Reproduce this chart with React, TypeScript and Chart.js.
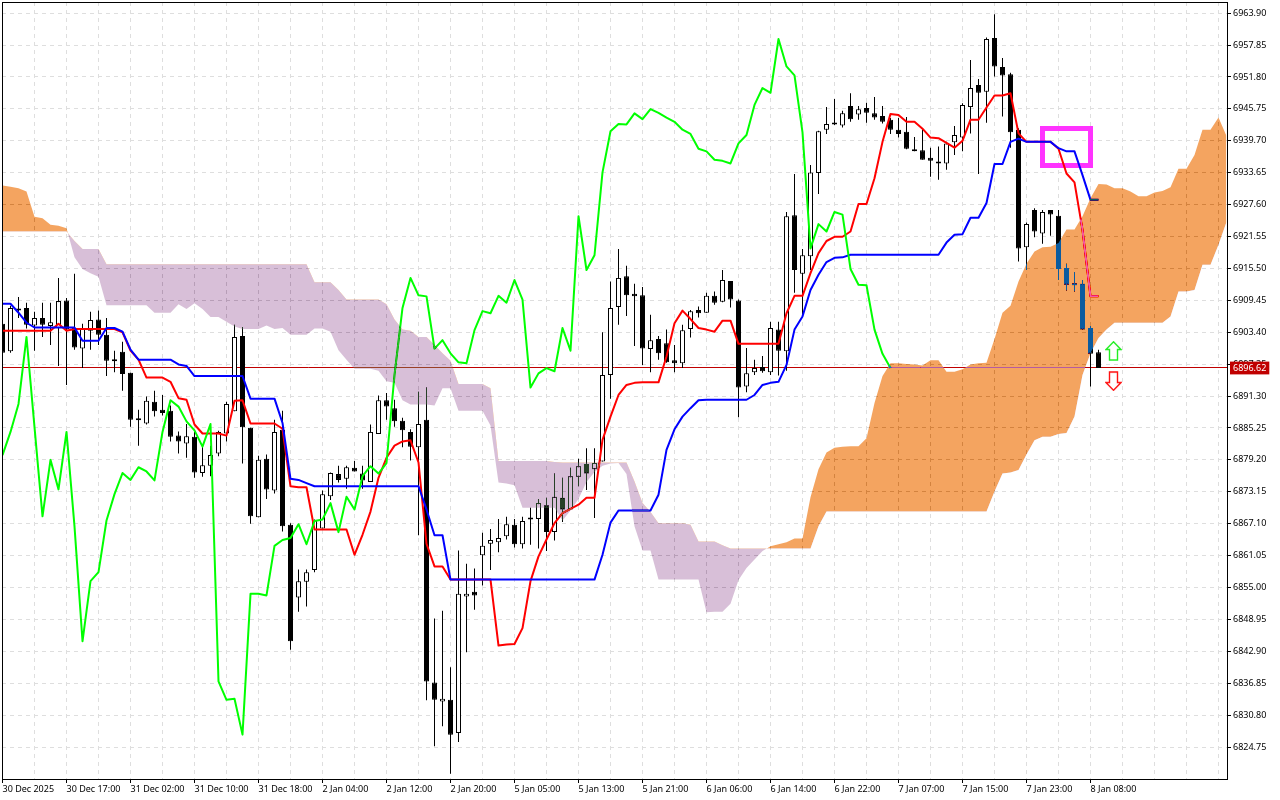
import React, { useEffect, useRef } from "react";
import { Chart, registerables } from "chart.js";

const opens = [
6905.0,6899.8,6907.6,6908.0,6904.7,6906.1,6904.6,6904.2,6909.4,6904.2,
6900.3,6903.7,6905.8,6902.9,6897.9,6899.7,6895.7,6886.8,6886.1,6890.2,
6888.7,6888.5,6883.8,6882.3,6883.6,6876.7,6878.1,6880.4,6884.2,6888.4,
6902.7,6885.3,6868.3,6879.4,6873.4,6884.9,6866.9,6853.1,6856.1,6858.3,
6866.2,6872.3,6876.5,6875.6,6877.7,6876.6,6875.0,6884.1,6890.5,6889.0,
6886.6,6884.5,6881.6,6886.8,6837.0,6833.4,6833.7,6827.4,6853.3,6854.2,
6861.1,6863.3,6863.6,6864.7,6866.9,6863.2,6868.2,6868.0,6870.6,6865.5,
6872.0,6869.8,6876.0,6878.4,6877.4,6878.9,6895.3,6908.2,6914.0,6910.7,
6910.4,6900.2,6902.1,6901.3,6898.1,6897.5,6904.0,6907.6,6907.1,6910.3,
6909.2,6913.1,6909.4,6893.1,6895.8,6896.8,6895.8,6903.9,6899.8,6925.6,
6914.5,6917.8,6933.6,6941.8,6943.0,6942.6,6946.3,6944.7,6945.9,6944.9,
6944.4,6943.7,6941.8,6941.4,6937.9,6937.9,6936.5,6935.7,6935.4,6939.4,
6940.3,6946.1,6950.3,6949.0,6959.2,6953.7,6952.3,6941.8,6919.5,6926.6,
6922.1,6926.6,6925.5,6915.6,6912.6,6912.6,6904.2,6899.6,
];
const highs = [
6905.4,6908.4,6910.1,6909.0,6907.3,6909.0,6909.0,6913.7,6909.9,6914.5,
6905.0,6907.3,6907.5,6906.1,6899.9,6901.6,6895.7,6888.7,6891.2,6892.3,
6891.5,6889.5,6884.6,6886.0,6884.5,6881.7,6881.9,6884.7,6890.2,6904.8,
6904.4,6885.3,6880.0,6880.2,6886.8,6888.5,6867.2,6858.4,6858.4,6867.9,
6873.4,6876.8,6878.1,6878.1,6879.0,6878.1,6885.9,6891.4,6891.9,6890.6,
6887.2,6885.0,6892.1,6892.9,6849.1,6850.6,6839.9,6862.0,6859.5,6858.6,
6865.4,6866.1,6868.0,6868.4,6868.0,6868.4,6870.1,6871.8,6872.0,6876.6,
6875.8,6877.7,6879.4,6881.4,6881.4,6903.4,6913.0,6919.2,6916.0,6912.6,
6912.0,6906.7,6902.7,6903.9,6901.0,6904.8,6907.6,6908.3,6910.9,6911.1,
6915.2,6913.1,6909.6,6900.4,6898.2,6898.9,6905.4,6905.4,6926.2,6933.4,
6919.2,6935.1,6941.6,6946.1,6947.6,6945.4,6948.7,6946.3,6946.9,6948.0,
6946.3,6944.0,6944.0,6944.2,6940.4,6941.9,6938.4,6938.6,6939.5,6942.5,
6946.8,6955.0,6951.4,6959.3,6963.7,6955.4,6952.6,6942.1,6924.2,6926.9,
6926.6,6926.6,6926.6,6916.4,6914.8,6913.3,6904.6,6900.1,
];
const lows = [
6899.5,6899.5,6906.1,6904.1,6899.9,6902.5,6901.0,6897.0,6893.4,6900.1,
6896.6,6900.1,6901.0,6895.1,6895.8,6892.3,6885.5,6881.9,6885.9,6887.4,
6887.6,6882.7,6880.4,6879.6,6875.8,6876.0,6876.1,6879.9,6882.7,6888.4,
6878.5,6867.1,6868.3,6871.8,6872.8,6865.6,6843.2,6850.4,6851.4,6857.9,
6866.2,6871.6,6874.9,6873.7,6877.0,6873.7,6875.0,6884.1,6886.8,6885.5,
6881.6,6879.1,6864.9,6833.6,6824.9,6828.7,6819.7,6825.7,6842.7,6850.8,
6855.4,6858.3,6861.7,6864.1,6862.6,6862.4,6863.1,6862.4,6861.9,6863.9,
6867.4,6869.8,6874.2,6873.5,6868.2,6878.9,6890.8,6904.8,6906.5,6900.8,
6897.2,6895.8,6898.2,6897.6,6895.8,6896.6,6902.4,6906.2,6907.1,6908.6,
6909.1,6908.1,6887.3,6892.0,6895.3,6895.7,6895.3,6895.2,6896.1,6910.9,
6906.7,6915.2,6929.6,6941.0,6942.7,6942.2,6943.3,6943.7,6943.1,6943.7,
6943.0,6941.0,6940.3,6938.1,6937.7,6936.1,6932.9,6932.3,6934.2,6937.0,
6937.7,6941.1,6933.4,6943.1,6951.9,6944.3,6938.4,6916.8,6915.2,6921.4,
6920.2,6921.7,6913.3,6911.3,6911.1,6903.9,6893.1,6896.62,
];
const closes = [
6899.5,6908.0,6907.5,6904.8,6906.1,6904.8,6905.3,6909.3,6903.9,6900.5,
6904.1,6905.7,6902.9,6898.0,6898.3,6895.5,6886.8,6886.7,6890.4,6888.4,
6888.1,6883.6,6882.7,6883.7,6876.8,6878.2,6880.1,6884.5,6889.8,6902.5,
6885.4,6868.5,6879.2,6873.6,6884.5,6866.6,6844.8,6856.2,6857.9,6867.7,
6872.7,6876.7,6875.4,6877.8,6877.0,6875.3,6884.5,6890.5,6889.3,6886.5,
6884.8,6881.7,6886.0,6837.2,6833.7,6833.9,6827.1,6853.8,6853.8,6853.5,
6862.9,6864.0,6864.4,6867.0,6863.2,6867.6,6867.9,6871.0,6865.5,6872.2,
6869.8,6876.1,6878.0,6876.6,6878.6,6895.3,6908.0,6913.7,6910.4,6910.2,
6900.3,6901.9,6899.4,6897.7,6897.5,6903.8,6907.4,6907.0,6910.3,6909.0,
6913.3,6909.6,6892.9,6895.6,6896.6,6896.0,6904.2,6899.9,6925.4,6915.2,
6918.0,6933.7,6941.5,6942.9,6942.8,6944.9,6943.8,6945.7,6945.0,6944.1,
6943.3,6941.8,6941.0,6938.2,6937.7,6936.1,6935.9,6935.4,6939.2,6940.8,
6946.5,6949.7,6948.8,6959.0,6953.8,6952.1,6941.3,6919.3,6923.9,6922.5,
6926.2,6925.7,6915.4,6912.4,6912.3,6903.9,6899.3,6896.62,
];
const tenkan = [
6903.7,6903.7,6903.7,6903.7,6903.7,6903.7,6903.7,6905.0,6903.7,6904.0,
6904.0,6904.0,6904.0,6904.0,6904.0,6903.4,6899.9,6898.2,6894.8,6894.8,
6894.8,6894.0,6890.9,6890.6,6885.9,6884.2,6884.2,6884.2,6883.8,6890.4,
6890.5,6886.1,6886.1,6886.1,6886.1,6885.1,6874.2,6874.0,6874.0,6866.0,
6866.0,6866.0,6866.0,6866.0,6861.2,6865.0,6869.4,6875.8,6879.6,6881.9,
6882.7,6882.9,6878.7,6863.3,6859.0,6859.0,6856.5,6856.5,6856.5,6856.5,
6856.5,6856.5,6844.0,6844.2,6844.3,6847.3,6856.2,6860.9,6864.1,6867.2,
6869.1,6869.9,6870.7,6872.0,6872.0,6883.0,6887.4,6891.5,6893.4,6893.8,
6893.9,6893.9,6893.9,6898.8,6905.1,6907.5,6905.9,6904.2,6903.9,6903.5,
6905.6,6905.6,6901.2,6901.2,6901.2,6901.2,6901.2,6901.2,6907.0,6910.3,
6910.3,6914.6,6918.4,6920.7,6921.5,6921.5,6922.5,6927.7,6927.7,6932.6,
6939.5,6944.8,6944.6,6943.3,6943.3,6942.0,6940.3,6940.2,6939.3,6938.4,
6939.7,6943.7,6943.7,6946.0,6948.3,6948.3,6948.7,6941.1,6939.5,6939.5,
6939.5,6939.5,6938.2,6933.5,6931.8,6922.8,6910.2,6910.2,
];
const kijun = [
6908.8,6908.8,6907.1,6905.2,6904.3,6904.3,6904.3,6904.3,6904.3,6904.3,
6901.8,6901.8,6901.8,6904.2,6904.2,6903.5,6900.1,6898.2,6898.2,6898.2,
6898.2,6898.2,6897.3,6897.0,6895.1,6895.1,6895.1,6895.1,6895.1,6895.1,
6895.1,6890.8,6890.8,6890.8,6890.8,6886.2,6875.6,6875.4,6874.8,6874.2,
6874.2,6874.2,6874.2,6874.2,6874.2,6874.2,6874.2,6874.2,6874.2,6874.2,
6874.2,6874.2,6874.2,6869.8,6864.9,6864.9,6856.5,6856.5,6856.5,6856.5,
6856.5,6856.5,6856.5,6856.5,6856.5,6856.5,6856.5,6856.5,6856.5,6856.5,
6856.5,6856.5,6856.5,6856.5,6856.5,6861.2,6867.3,6869.6,6869.6,6869.6,
6869.6,6869.6,6872.6,6881.1,6885.0,6887.4,6889.0,6890.5,6890.6,6890.6,
6890.6,6890.6,6890.6,6890.6,6891.5,6893.4,6893.8,6894.0,6897.2,6903.9,
6906.4,6911.4,6914.3,6916.7,6917.5,6917.6,6918.1,6918.1,6918.1,6918.1,
6918.1,6918.1,6918.1,6918.1,6918.1,6918.1,6918.1,6918.1,6920.4,6921.9,
6922.0,6925.1,6925.1,6927.9,6935.3,6935.3,6939.5,6940.1,6939.5,6939.5,
6939.5,6939.5,6938.3,6937.7,6937.7,6933.2,6928.5,6928.5,
];
const chikou = [
6880.1,6884.5,6889.8,6902.5,6885.4,6868.5,6879.2,6873.6,6884.5,6866.6,
6844.8,6856.2,6857.9,6867.7,6872.7,6876.7,6875.4,6877.8,6877.0,6875.3,
6884.5,6890.5,6889.3,6886.5,6884.8,6881.7,6886.0,6837.2,6833.7,6833.9,
6827.1,6853.8,6853.8,6853.5,6862.9,6864.0,6864.4,6867.0,6863.2,6867.6,
6867.9,6871.0,6865.5,6872.2,6869.8,6876.1,6878.0,6876.6,6878.6,6895.3,
6908.0,6913.7,6910.4,6910.2,6900.3,6901.9,6899.4,6897.7,6897.5,6903.8,
6907.4,6907.0,6910.3,6909.0,6913.3,6909.6,6892.9,6895.6,6896.6,6896.0,
6904.2,6899.9,6925.4,6915.2,6918.0,6933.7,6941.5,6942.9,6942.8,6944.9,
6943.8,6945.7,6945.0,6944.1,6943.3,6941.8,6941.0,6938.2,6937.7,6936.1,
6935.9,6935.4,6939.2,6940.8,6946.5,6949.7,6948.8,6959.0,6953.8,6952.1,
6941.3,6919.3,6923.9,6922.5,6926.2,6925.7,6915.4,6912.4,6912.3,6903.9,
6899.3,6896.62,
];
const spanA = [
6931.2,6931.0,6930.7,6930.1,6925.3,6925.0,6923.8,6923.6,6923.1,6917.6,
6915.4,6914.6,6913.9,6908.5,6908.5,6908.5,6908.5,6908.5,6908.5,6907.1,
6907.1,6907.1,6908.7,6907.8,6908.9,6907.8,
6906.3,6906.3,6905.4,6904.5,6904.0,6904.0,6904.0,6904.7,6904.0,6904.2,
6902.9,6902.9,6902.9,6904.1,6904.1,6903.5,6900.0,6898.2,6896.5,6896.5,
6896.5,6896.1,6894.1,6893.8,6890.5,6889.7,6889.7,6889.7,6889.5,6892.8,
6892.8,6888.5,6888.5,6888.5,6888.5,6885.7,6874.9,6874.7,6874.4,6870.1,
6870.1,6870.1,6870.1,6870.1,6867.7,6869.6,6871.8,6875.0,6876.9,6878.1,
6878.5,6878.6,6876.5,6866.6,6862.0,6862.0,6856.5,6856.5,6856.5,6856.5,
6856.5,6856.5,6850.3,6850.4,6850.4,6851.9,6856.4,6858.7,6860.3,6861.9,
6862.8,6863.2,6863.6,6864.3,6864.3,6872.1,6877.4,6880.6,6881.5,6881.7,
6881.8,6881.8,6883.3,6890.0,6895.1,6897.5,6897.5,6897.4,6897.3,6897.1,
6898.1,6898.1,6895.9,6895.9,6896.4,6897.3,6897.5,6897.6,6902.1,6907.1,
6908.4,6913.0,6916.4,6918.7,6919.5,6919.6,6920.3,6922.9,6922.9,6925.4,
6928.8,6931.5,6931.4,6930.7,6930.7,6930.1,6929.2,6929.2,6929.9,6930.2,
6930.9,6934.4,6934.4,6937.0,6941.8,6941.8,6944.1,6940.6,
];
const spanB = [
6922.5,6922.5,6922.5,6922.5,6922.5,6922.5,6922.5,6922.5,6922.5,6920.7,
6919.2,6919.2,6919.2,6916.3,6916.3,6916.3,6916.3,6916.3,6916.3,6916.3,
6916.3,6916.3,6916.3,6916.3,6916.3,6916.3,6916.3,6916.3,6916.3,6916.3,
6916.3,6916.3,6916.3,6916.3,6916.3,6916.3,6916.3,6916.3,6916.3,6912.9,
6912.9,6912.9,6911.4,6909.6,6909.6,6909.6,6909.6,6909.6,6908.7,6905.8,
6903.9,6903.7,6902.5,6902.5,6901.0,6899.4,6898.0,6893.6,6893.6,6893.6,
6893.6,6892.8,6879.0,6879.0,6879.0,6879.0,6879.0,6879.0,6879.0,6878.8,
6878.7,6878.7,6878.7,6878.7,6878.7,6878.7,6878.7,6878.7,6878.7,6875.1,
6871.0,6869.3,6867.2,6867.2,6867.2,6867.2,6866.9,6863.7,6863.7,6863.7,
6863.0,6862.4,6862.4,6862.4,6862.4,6862.4,6862.4,6862.4,6862.4,6862.4,
6862.4,6862.4,6866.6,6869.4,6869.4,6869.4,6869.4,6869.4,6869.4,6869.4,
6869.4,6869.4,6869.4,6869.4,6869.4,6869.4,6869.4,6869.4,6869.4,6869.4,
6869.4,6869.4,6869.4,6869.4,6873.2,6876.6,6876.8,6877.3,6880.2,6882.9,
6883.6,6883.6,6884.1,6884.3,6887.4,6895.3,6899.4,6902.3,6903.9,6905.2,
6905.2,6905.2,6905.2,6905.2,6905.2,6905.2,6906.4,6911.1,6911.1,6911.4,
6916.2,6916.2,6920.0,6924.3,
];
const priceTicks = [
6963.90,6957.85,6951.80,6945.75,6939.70,6933.65,6927.60,6921.55,6915.50,6909.45,
6903.40,6897.35,6891.30,6885.25,6879.20,6873.15,6867.10,6861.05,6855.00,6848.95,
6842.90,6836.85,6830.80,6824.75,
];
const timeLabels = [
"30 Dec 2025","30 Dec 17:00","31 Dec 02:00","31 Dec 10:00","31 Dec 18:00","2 Jan 04:00",
"2 Jan 12:00","2 Jan 20:00","5 Jan 05:00","5 Jan 13:00","5 Jan 21:00","6 Jan 06:00",
"6 Jan 14:00","6 Jan 22:00","7 Jan 07:00","7 Jan 15:00","7 Jan 23:00","8 Jan 08:00",
];
const lastPrice = 6896.62;
const boxBars = [130, 136, 136, 130, 130, 136];
const boxPrices = [6942.03, 6942.03, 6935.01, 6935.01, 6942.03, 6942.03];
const signalBar = 138.875;
const upArrowPrice = 6899.84;
const downArrowPrice = 6894.15;

const cloudBlend = {
  id: "cloudBlend",
  afterLayout(chart: any) {
    chart.scales.y2.right = chart.width;
  },
  beforeDraw(chart: any) {
    const { ctx, width, height } = chart;
    ctx.save();
    ctx.fillStyle = "#fff";
    ctx.fillRect(0, 0, width, height);
    ctx.restore();
  },
  beforeDatasetDraw(chart: any, args: any) {
    if (chart.data.datasets[args.index].cloud) chart.ctx.globalCompositeOperation = "difference";
  },
  afterDatasetDraw(chart: any, args: any) {
    if (chart.data.datasets[args.index].cloud) chart.ctx.globalCompositeOperation = "source-over";
  },
  afterDatasetsDraw(chart: any) {
    const { ctx, chartArea: a } = chart;
    ctx.save();
    ctx.strokeStyle = "#000";
    ctx.lineWidth = 1;
    ctx.strokeRect(a.left + 0.5, a.top + 0.5, a.right - a.left, a.bottom - a.top);
    ctx.restore();
  },
};
Chart.register(cloudBlend, ...registerables);

function arrowImage(color: string, up: boolean) {
  const c = document.createElement("canvas");
  c.width = 17;
  c.height = 20;
  const g = c.getContext("2d")!;
  if (!up) {
    g.translate(0, 20);
    g.scale(1, -1);
  }
  g.beginPath();
  g.moveTo(8.5, 0.8);
  g.lineTo(16, 8.5);
  g.lineTo(12.5, 8.5);
  g.lineTo(12.5, 19);
  g.lineTo(4.5, 19);
  g.lineTo(4.5, 8.5);
  g.lineTo(1, 8.5);
  g.closePath();
  g.fillStyle = "#fff";
  g.fill();
  g.strokeStyle = color;
  g.lineWidth = 1.4;
  g.stroke();
  return c;
}

const noPad = (s: any) => {
  s.paddingLeft = 0;
  s.paddingRight = 0;
  s.paddingTop = 0;
  s.paddingBottom = 0;
};
const pts = (v: number[]) => v.map((y, x) => ({ x, y }));
const lineStyle = { type: "line", pointRadius: 0, tension: 0, fill: false, borderJoinStyle: "round" };
const font = { family: "'Noto Sans'", size: 9 };

export default function App() {
  const ref = useRef<HTMLCanvasElement>(null);
  useEffect(() => {
    const chart = new Chart(ref.current!, {
      type: "bar",
      data: {
        datasets: [
          {
            data: highs.map((h, x) => ({ x, y: [lows[x], h] })),
            backgroundColor: "#000",
            borderWidth: 0,
            grouped: false,
            maxBarThickness: 1,
            minBarLength: 1,
            inflateAmount: 0,
            order: 10,
          },
          {
            data: opens.map((o, x) => ({ x, y: [o, closes[x]] })),
            backgroundColor: opens.map((o, x) => (closes[x] >= o ? "#fff" : "#000")),
            borderColor: "#000",
            borderWidth: 1,
            borderSkipped: false,
            grouped: false,
            maxBarThickness: 5,
            minBarLength: 2,
            inflateAmount: 0,
            order: 9,
          },
          {
            ...lineStyle,
            data: boxBars.map((x, i) => ({ x, y: boxPrices[i] })),
            borderColor: "#FF33FF",
            borderWidth: 5,
            borderJoinStyle: "miter",
            order: 8,
          },
          { ...lineStyle, data: pts(tenkan), borderColor: "#FF0000", borderWidth: 2, order: 7 },
          { ...lineStyle, data: pts(kijun), borderColor: "#0000FF", borderWidth: 2, order: 6 },
          { ...lineStyle, data: pts(chikou), borderColor: "#00FF00", borderWidth: 2, order: 5 },
          {
            ...lineStyle,
            cloud: true,
            data: pts(spanA),
            borderColor: "transparent",
            borderWidth: 0,
            fill: { target: "+1", above: "#0B5B9F", below: "#274027" },
            order: 2,
          },
          {
            ...lineStyle,
            data: pts(spanB),
            borderColor: "transparent",
            borderWidth: 0,
            order: 3,
          },
          {
            type: "line",
            showLine: false,
            data: [{ x: signalBar, y: upArrowPrice }],
            pointStyle: arrowImage("#22EE22", true),
            pointRadius: 1,
            pointBorderWidth: 0,
            order: 1,
          },
          {
            type: "line",
            showLine: false,
            data: [{ x: signalBar, y: downArrowPrice }],
            pointStyle: arrowImage("#FF1111", false),
            pointRadius: 1,
            pointBorderWidth: 0,
            order: 0,
          },
        ] as any,
      },
      options: {
        responsive: false,
        animation: false,
        devicePixelRatio: 1,
        events: [],
        layout: { autoPadding: false, padding: { left: 2, top: 2, right: 0, bottom: 0 } },
        plugins: { legend: { display: false }, tooltip: { enabled: false } },
        scales: {
          x: {
            type: "linear",
            offset: false,
            min: -0.0625,
            max: 153.0625,
            afterFit: (s: any) => { s.height = 21; noPad(s); },
            afterBuildTicks: (s: any) => {
              const t: any[] = [];
              for (let k = 0; k <= 38; k++) t.push({ value: k * 4 });
              s.ticks = t;
            },
            border: { display: false, dash: [4, 4] },
            grid: {
              offset: false,
              color: "#DEDEDE",
              tickLength: 4,
              tickColor: (c: any) =>
                c.tick && c.tick.value % 8 === 0 && c.tick.value / 8 < timeLabels.length ? "#000" : "transparent",
            },
            ticks: {
              autoSkip: false,
              maxRotation: 0,
              minRotation: 0,
              align: "start",
              padding: 1,
              color: "#000",
              font,
              callback: (v: any) => (v % 8 === 0 ? timeLabels[v / 8] ?? "" : ""),
            },
          },
          y: {
            type: "linear",
            position: "right",
            min: 6818.69,
            max: 6966.015,
            afterFit: (s: any) => { s.width = 53; noPad(s); },
            afterBuildTicks: (s: any) => { s.ticks = priceTicks.map((value) => ({ value })); },
            border: { display: false, dash: [4, 4] },
            grid: { color: "#DEDEDE", tickLength: 4, tickColor: "#000" },
            ticks: { padding: 2, color: "#000", font, autoSkip: false, callback: (v: any) => v.toFixed(2) },
          },
          y2: {
            type: "linear",
            position: "right",
            weight: -1,
            min: 6818.69,
            max: 6966.015,
            afterFit: (s: any) => { s.width = 0; noPad(s); },
            afterBuildTicks: (s: any) => { s.ticks = [{ value: lastPrice }]; },
            border: { display: false },
            grid: { color: "#C00000", tickLength: 4, tickColor: "transparent" },
            ticks: {
              z: 1,
              padding: 2,
              color: "#fff",
              font,
              showLabelBackdrop: true,
              backdropColor: "#C00000",
              backdropPadding: { left: 3, right: 3, top: 1, bottom: 1 },
              callback: (v: any) => v.toFixed(2),
            },
          },
        },
      } as any,
    });
    return () => chart.destroy();
  }, []);
  return (
    <div style={{ position: "absolute", left: 0, top: 0, width: 1280, height: 800, background: "#fff" }}>
      <canvas ref={ref} width={1280} height={800} style={{ display: "block" }} />
    </div>
  );
}
